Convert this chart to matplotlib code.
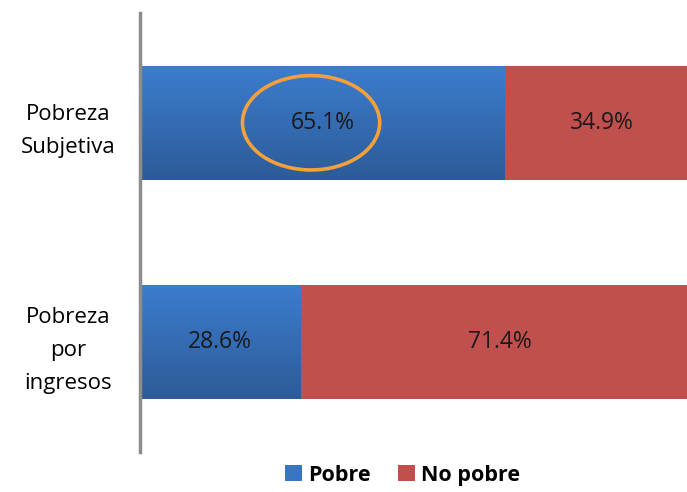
import numpy as np
import matplotlib.pyplot as plt
from matplotlib.colors import LinearSegmentedColormap
from matplotlib.patches import Ellipse

# datos
categorias = ["Pobreza\npor\ningresos", "Pobreza\nSubjetiva"]
pobre = [28.6, 65.1]
no_pobre = [71.4, 34.9]
series = ["Pobre", "No pobre"]

fig = plt.figure(figsize=(6.87, 4.92), dpi=100)
# el eje se sale un poco por la derecha, como en la original
ax = fig.add_axes([140 / 687, (492 - 452) / 492, 560 / 687, 439 / 492])

y = np.arange(len(categorias))
alto = 0.52
azul_grad = LinearSegmentedColormap.from_list("azul", ["#3C7DCE", "#2D5B98"])

b1 = ax.barh(y, pobre, height=alto, color="#3A75C0", label=series[0])
b2 = ax.barh(y, no_pobre, left=pobre, height=alto, color="#C0504D", label=series[1])

# degradado vertical en las barras azules
grad = np.linspace(0, 1, 256).reshape(-1, 1)
for r in b1:
    x0, y0 = r.get_x(), r.get_y()
    im = ax.imshow(grad, cmap=azul_grad, aspect="auto",
                   extent=(x0, x0 + r.get_width(), y0, y0 + r.get_height()),
                   origin="upper", zorder=r.get_zorder() + 0.1)
    im.set_clip_path(r)

for i in range(len(categorias)):
    ax.text(pobre[i] / 2, y[i], f"{pobre[i]:.1f}%", ha="center", va="center",
            fontsize=16.5, color="#1a1a1a", family="Open Sans", zorder=5)
    ax.text(pobre[i] + no_pobre[i] / 2, y[i], f"{no_pobre[i]:.1f}%", ha="center",
            va="center", fontsize=16.5, color="#1a1a1a", family="Open Sans", zorder=5)

# circulo naranja alrededor del 65.1%
ax.add_patch(Ellipse((pobre[1] / 2 - 2, y[1]), 24.5, 0.43, fill=False,
                     edgecolor="#F5A03A", linewidth=2.6, zorder=6))

ax.set_xlim(0, 100)
ax.set_ylim(-0.5, 1.5)
ax.set_xticks([])
ax.set_yticks(y)
ax.set_yticklabels(categorias, fontsize=16, family="Open Sans", linespacing=1.75,
                   ha="center")
ax.tick_params(axis="y", length=0, pad=52)
for s in ["top", "right", "bottom"]:
    ax.spines[s].set_visible(False)
ax.spines["left"].set_color("#8c8c8c")
ax.spines["left"].set_linewidth(2.5)

fig.legend(handles=[b1, b2], labels=series, loc="lower left",
           bbox_to_anchor=(266 / 687, -13 / 492), ncol=2, frameon=False,
           prop={"family": "Open Sans", "weight": "bold", "size": 15.5},
           handlelength=0.75, handleheight=0.75, handletextpad=0.3, columnspacing=1.3)

fig.savefig("out.png", dpi=100)
